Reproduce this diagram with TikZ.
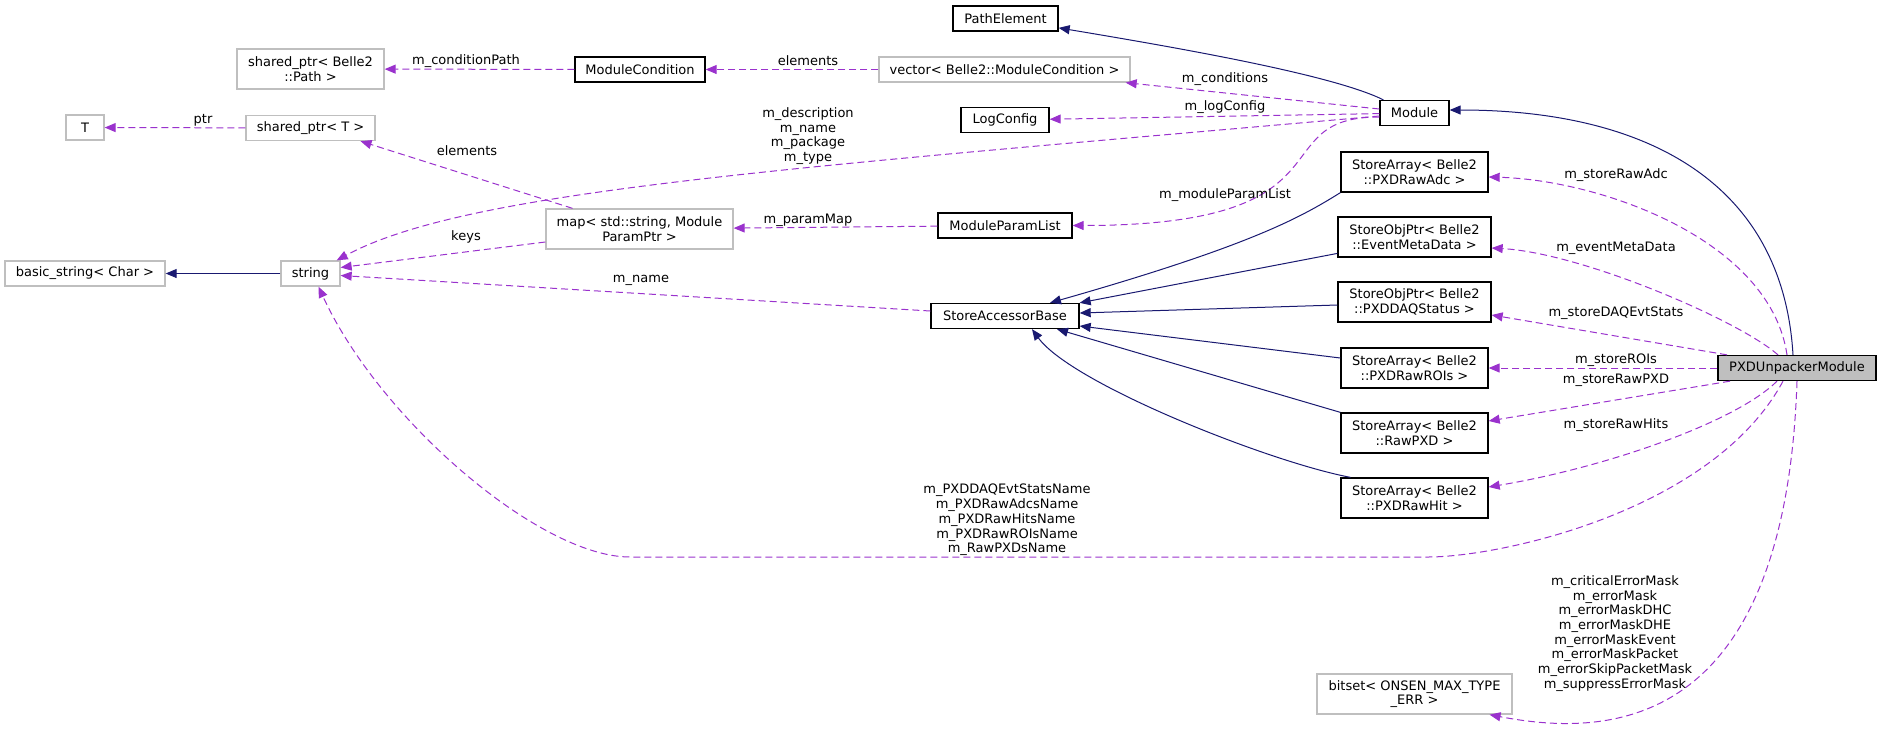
\documentclass[tikz,border=0pt]{standalone}
\usepackage{fontspec}
\setmainfont{DejaVu Sans}
\usetikzlibrary{arrows.meta}
\definecolor{inhblue}{HTML}{191970}
\definecolor{usepurple}{HTML}{9A32CD}
\definecolor{extgray}{HTML}{BFBFBF}
\tikzset{
  cls/.style={draw=black, line width=1.3pt, inner sep=2pt, align=center, minimum height=25pt},
  ext/.style={cls, draw=extgray},
  two/.style={minimum height=40pt},
  inh/.style={draw=inhblue, line width=1pt, -{Triangle[length=11pt,width=9pt]}},
  use/.style={draw=usepurple, line width=1pt, dash pattern=on 7pt off 4pt, -{Triangle[length=11pt,width=9pt]}},
  lbl/.style={inner sep=0pt, align=center},
}
\begin{document}
\begin{tikzpicture}[x=1pt,y=-1pt,every node/.append style={font=\fontsize{13}{14.7}\selectfont}]
\useasboundingbox (0,0) rectangle (1883,732);
% classes, one column per rank
\node[ext, minimum width=160] (basicstr) at (85,273.5) {basic\_string< Char >};
\node[ext, minimum width=38] (T) at (85,127.5) {T};
\node[ext, two, minimum width=147] (sharedPath) at (310.5,69) {shared\_ptr< Belle2\\::Path >};
\node[ext, minimum width=129] (sharedT) at (310.5,128) {shared\_ptr< T >};
\node[ext, minimum width=59] (string) at (310.5,273.5) {string};
\node[cls, minimum width=130] (ModuleCondition) at (640,69.5) {ModuleCondition};
\node[ext, two, minimum width=187] (map) at (639.5,229) {map< std::string, Module\\ParamPtr >};
\node[cls, minimum width=105] (PathElement) at (1005.5,18.5) {PathElement};
\node[ext, minimum width=251] (vector) at (1004.5,69.5) {vector< Belle2::ModuleCondition >};
\node[cls, minimum width=88] (LogConfig) at (1005,120) {LogConfig};
\node[cls, minimum width=134] (ModuleParamList) at (1005,225.5) {ModuleParamList};
\node[cls, minimum width=148] (SAB) at (1005,316) {StoreAccessorBase};
\node[cls, minimum width=69] (Module) at (1414.5,113) {Module};
\node[cls, two, minimum width=147] (rawAdc) at (1414.5,172) {StoreArray< Belle2\\::PXDRawAdc >};
\node[cls, two, minimum width=153] (eventMeta) at (1414.5,237) {StoreObjPtr< Belle2\\::EventMetaData >};
\node[cls, two, minimum width=153] (daqStatus) at (1414.5,302) {StoreObjPtr< Belle2\\::PXDDAQStatus >};
\node[cls, two, minimum width=147] (rawROIs) at (1414.5,368) {StoreArray< Belle2\\::PXDRawROIs >};
\node[cls, two, minimum width=147] (rawPXD) at (1414.5,433) {StoreArray< Belle2\\::RawPXD >};
\node[cls, two, minimum width=147] (rawHit) at (1414.5,498) {StoreArray< Belle2\\::PXDRawHit >};
\node[ext, two, minimum width=195] (bitset) at (1414.5,694) {bitset< ONSEN\_MAX\_TYPE\\\_ERR >};
\node[cls, fill=extgray, minimum width=158] (unpacker) at (1797,368) {PXDUnpackerModule};
\coordinate (bendR) at (1428,557); % bottom run of the names edge
\coordinate (bendL) at (630,557);
% inheritance
\draw[inh] (string) -- (basicstr);
\draw[inh] ([xshift=4pt]Module.north west) .. controls +(-50,-25) and +(120,20) .. (PathElement.-10);
\draw[inh] ([xshift=-4pt]unpacker.north) .. controls +(-10,-170) and +(200,0) .. ([yshift=3pt]Module.east);
\draw[inh] (rawAdc.south west) .. controls +(-40,25) and +(200,-57) .. ([xshift=45pt]SAB.north);
\draw[inh] (eventMeta.192) -- (SAB.north east);
\draw[inh] ([yshift=-3pt]daqStatus.west) -- ([yshift=3pt]SAB.east);
\draw[inh] ([yshift=10pt]rawROIs.west) -- ([yshift=-10pt]SAB.east);
\draw[inh] (rawPXD.north west) -- ([xshift=52pt]SAB.south);
\draw[inh] ([xshift=-64pt]rawHit.north) .. controls +(-80,-15) and +(40,55) .. ([xshift=27pt]SAB.south);
% members
\foreach \a/\b in {ModuleCondition/sharedPath, vector/ModuleCondition, sharedT/T, ModuleParamList/map, Module/LogConfig, unpacker/rawROIs}
  \draw[use] (\a) -- (\b);
\draw[use] ([yshift=4pt]Module.west) -- ([xshift=-5pt]vector.south east);
\draw[use] ([yshift=-3pt]Module.west) .. controls +(-600,53) and +(130,-70) .. ([xshift=-4pt]string.north east);
\draw[use] ([yshift=-4pt]Module.west) .. controls +(-120,0) and +(287,0) .. (ModuleParamList.east);
\draw[use] ([xshift=-67pt]map.north) -- ([xshift=50pt]sharedT.south);
\draw[use] ([yshift=-13pt]map.west) -- ([yshift=6pt]string.east);
\draw[use] ([yshift=5pt]SAB.west) -- ([yshift=-2pt]string.east);
\draw[use] ([xshift=-10pt]unpacker.north) .. controls +(-17,-115) and +(112,3) .. ([yshift=-5pt]rawAdc.east);
\draw[use] ([xshift=-19pt]unpacker.north) .. controls +(-40,-35) and +(90,5) .. ([yshift=-11pt]eventMeta.east);
\draw[use] ([xshift=-70pt]unpacker.north) -- ([yshift=-13pt]daqStatus.east);
\draw[use] ([xshift=-67pt]unpacker.south) -- ([yshift=12pt]rawPXD.east);
\draw[use] ([xshift=-20pt]unpacker.south) .. controls +(-40,40) and +(120,-20) .. ([yshift=11pt]rawHit.east);
\draw[use] ([xshift=-14pt]unpacker.south) .. controls +(-70,130) and +(72,0) .. (bendR) -- (bendL) .. controls +(-90,0) and +(61,133) .. ([xshift=8pt]string.south);
\draw[use] (unpacker.south) .. controls +(-12,359) and +(110,21) .. ([xshift=75pt]bitset.south);
% edge labels
\node[lbl] (lcondPath) at (466,61) {m\_conditionPath};
\node[lbl] (lelemCond) at (808,61) {elements};
\node[lbl] (lptr) at (203,120) {ptr};
\node[lbl] (lelemMap) at (467,151) {elements};
\node[lbl] (lkeys) at (466,237) {keys};
\node[lbl] (lname) at (641,280) {m\_name};
\node[lbl] (ldescr) at (808,136) {m\_description\\m\_name\\m\_package\\m\_type};
\node[lbl] (lparamMap) at (808,220) {m\_paramMap};
\foreach \n/\y/\t in {conditions/79/m\_conditions, logConfig/107/m\_logConfig, paramList/195/m\_moduleParamList}
  \node[lbl] (l\n) at (1225,\y) {\t};
\foreach \n/\y/\t in {rawAdc/175/m\_storeRawAdc, eventMeta/248/m\_eventMetaData, daq/313/m\_storeDAQEvtStats, ROIs/360/m\_storeROIs, rawPXD/380/m\_storeRawPXD, rawHits/425/m\_storeRawHits}
  \node[lbl] (l\n) at (1616,\y) {\t};
\node[lbl] (lnames) at (1007,520) {m\_PXDDAQEvtStatsName\\m\_PXDRawAdcsName\\m\_PXDRawHitsName\\m\_PXDRawROIsName\\m\_RawPXDsName};
\node[lbl] (lmasks) at (1615,633.5) {m\_criticalErrorMask\\m\_errorMask\\m\_errorMaskDHC\\m\_errorMaskDHE\\m\_errorMaskEvent\\m\_errorMaskPacket\\m\_errorSkipPacketMask\\m\_suppressErrorMask};
\end{tikzpicture}
\end{document}
